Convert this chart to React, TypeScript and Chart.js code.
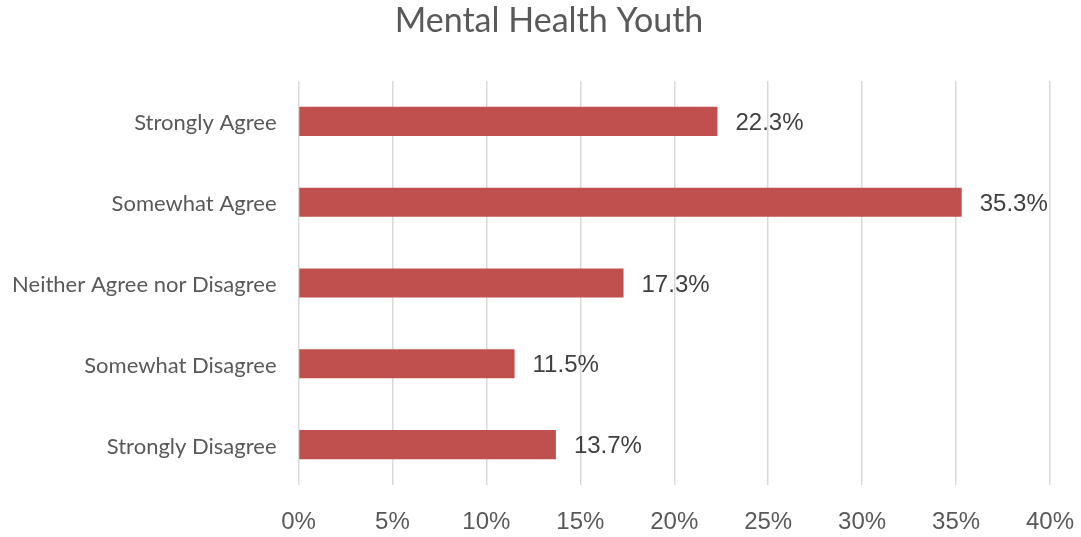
import React, { useEffect, useRef } from "react";
import { Chart, registerables } from "chart.js";

Chart.register(...registerables);

const categories = [
  "Strongly Agree",
  "Somewhat Agree",
  "Neither Agree nor Disagree",
  "Somewhat Disagree",
  "Strongly Disagree",
];
const values = [22.3, 35.3, 17.3, 11.5, 13.7];
const chartTitle = "Mental Health Youth";
const xMin = 0;
const xMax = 40;
const xStep = 5;

const LEFT = 298.5;
const TOP = 81;
const BOTTOM = 485;
const W = 1081;
const H = 537;

const dataLabels = {
  id: "dataLabels",
  afterDatasetsDraw(chart: any) {
    const ctx = chart.ctx;
    const meta = chart.getDatasetMeta(0);
    ctx.save();
    ctx.font = '24px "Liberation Sans", Arial, sans-serif';
    ctx.fillStyle = "#404040";
    ctx.textAlign = "left";
    ctx.textBaseline = "middle";
    meta.data.forEach((bar: any, i: number) => {
      ctx.fillText(values[i].toFixed(1) + "%", bar.x + 18, bar.y + 2);
    });
    ctx.restore();
  },
};

const titlePlugin = {
  id: "customTitle",
  afterDraw(chart: any) {
    const ctx = chart.ctx;
    ctx.save();
    ctx.font = '34px Lato, "Open Sans", sans-serif';
    ctx.fillStyle = "#595959";
    ctx.textAlign = "center";
    ctx.textBaseline = "middle";
    ctx.fillText(chartTitle, 549, 21);
    ctx.restore();
  },
};

export default function App() {
  const ref = useRef<HTMLCanvasElement | null>(null);
  useEffect(() => {
    document.body.style.margin = "0";
    const c = new Chart(ref.current!, {
      type: "bar",
      data: {
        labels: categories,
        datasets: [
          {
            data: values,
            backgroundColor: "#C0504D",
            borderWidth: 0,
            categoryPercentage: 1,
            barPercentage: 0.36,
          },
        ],
      },
      options: {
        indexAxis: "y",
        animation: false,
        responsive: false,
        maintainAspectRatio: false,
        layout: { padding: { left: 0, right: 31, top: TOP, bottom: 0 } },
        plugins: {
          legend: { display: false },
          tooltip: { enabled: false },
          title: { display: false },
        },
        scales: {
          x: {
            min: xMin,
            max: xMax,
            ticks: {
              stepSize: xStep,
              callback: (v: any) => v + "%",
              color: "#595959",
              font: { family: "'Liberation Sans', Arial, sans-serif", size: 24 },
              padding: 23,
            },
            grid: { color: "#D9D9D9", lineWidth: 1.5, drawTicks: false },
            border: { display: false },
            afterFit: (s: any) => {
              s.height = H - BOTTOM;
              s.paddingLeft = 0;
              s.paddingRight = 0;
            },
          },
          y: {
            ticks: {
              color: "#595959",
              font: { family: "Lato, 'Open Sans', sans-serif", size: 22 },
              padding: 22,
              labelOffset: 2,
            },
            grid: { display: false, drawTicks: false },
            border: { display: false },
            afterFit: (s: any) => {
              s.width = LEFT;
              s.paddingTop = 0;
              s.paddingBottom = 0;
            },
          },
        },
      },
      plugins: [dataLabels, titlePlugin],
    });
    return () => c.destroy();
  }, []);
  return (
    <div style={{ width: W, height: H, background: "#fff" }}>
      <canvas ref={ref} width={W} height={H} style={{ width: W, height: H }} />
    </div>
  );
}
